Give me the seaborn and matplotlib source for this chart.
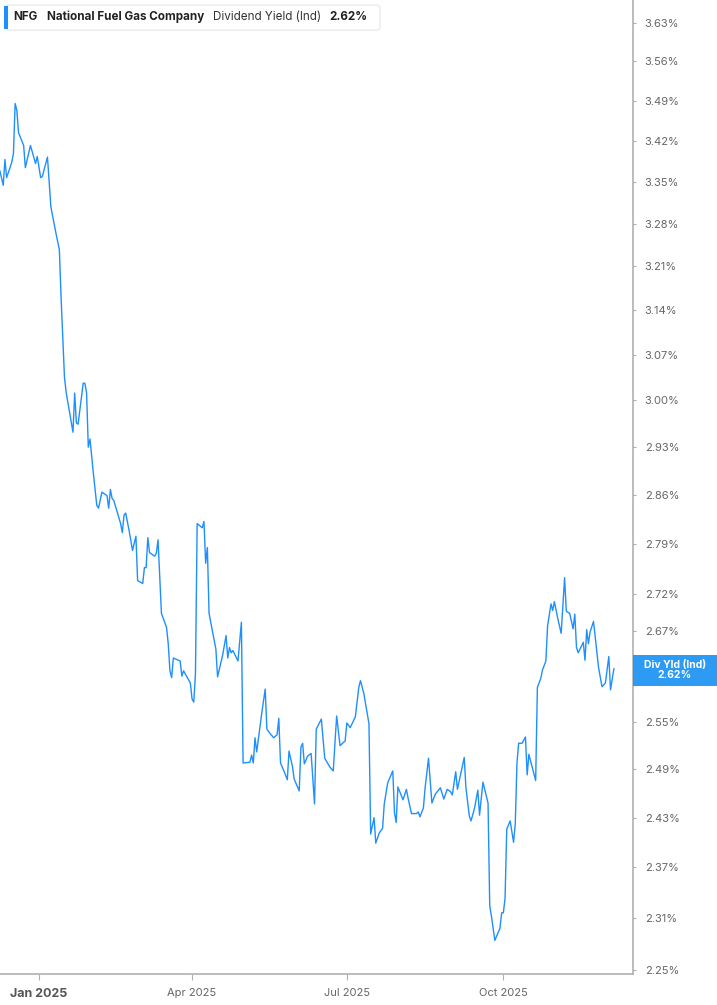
import pandas as pd
import matplotlib.pyplot as plt
import matplotlib.ticker as mticker
from matplotlib.patches import FancyBboxPatch, Rectangle
import seaborn as sns

# values: days counted from 2025-01-01, dividend yield in %
days_from_jan1 = [
    -23, -21, -20, -19, -16, -15, -14, -13, -12, -9, -8, -5, -2, -1,
    1, 2, 5, 7, 8, 10, 12, 13, 15, 16, 20, 21, 22, 23, 26, 27, 28, 29, 30,
    32, 34, 35, 37, 40, 41, 42, 43, 44, 48, 49, 50, 51, 53, 55, 57, 58,
    61, 62, 63, 64, 65, 68, 69, 70, 72, 75, 76, 77, 78, 79, 83, 84, 85,
    89, 90, 91, 92, 93, 95, 96, 97, 98, 99, 100, 104, 105, 108, 110, 111,
    112, 113, 114, 117, 119, 120, 124, 125, 126, 127, 128, 131, 133, 134,
    136, 138, 140, 141, 142, 144, 146, 147, 149, 150, 153, 154, 155, 156,
    158, 160, 162, 163, 166, 168, 171, 173, 175, 177, 180, 181, 183, 186,
    188, 189, 191, 194, 195, 197, 198, 200, 202, 203, 205, 208, 209, 210,
    211, 214, 216, 217, 219, 222, 223, 224, 226, 227, 229, 230, 231, 233,
    236, 238, 240, 242, 243, 245, 246, 248, 250, 251, 253, 254, 256, 258,
    259, 261, 264, 265, 266, 268, 271, 272, 273, 274, 275, 277, 279, 280,
    281, 282, 284, 286, 287, 288, 292, 293, 295, 296, 298, 299, 301, 302,
    303, 305, 307, 309, 310, 312, 314, 315, 316, 317, 320, 321, 322, 323,
    324, 326, 329, 331, 333, 335, 336, 338,
]
div_yield = [
    3.369, 3.344, 3.388, 3.357, 3.383, 3.398, 3.485, 3.473, 3.434, 3.412,
    3.374, 3.412, 3.381, 3.393,
    3.357, 3.359, 3.392, 3.308, 3.293, 3.264, 3.237, 3.160, 3.035, 3.012,
    2.952, 3.011, 2.966, 2.964, 3.026, 3.026, 3.011, 2.930, 2.942,
    2.891, 2.845, 2.841, 2.864, 2.859, 2.841, 2.868, 2.855, 2.852, 2.819,
    2.806, 2.831, 2.834, 2.809, 2.781, 2.801, 2.739,
    2.735, 2.757, 2.757, 2.799, 2.778, 2.773, 2.777, 2.796, 2.694, 2.675,
    2.653, 2.617, 2.608, 2.634, 2.630, 2.610, 2.617,
    2.601, 2.580, 2.576, 2.613, 2.819, 2.815, 2.813, 2.822, 2.763, 2.785,
    2.694, 2.646, 2.609, 2.638, 2.664, 2.634,
    2.648, 2.641, 2.644, 2.630, 2.682, 2.498, 2.499, 2.508, 2.498, 2.530,
    2.512, 2.562, 2.593, 2.541,
    2.535, 2.530, 2.534, 2.555, 2.498, 2.488, 2.477, 2.513, 2.494, 2.478,
    2.463, 2.518, 2.523, 2.497,
    2.507, 2.510, 2.447, 2.541, 2.554, 2.504, 2.493, 2.488, 2.558, 2.520,
    2.526, 2.549, 2.543, 2.557,
    2.595, 2.604, 2.587, 2.548, 2.410, 2.430, 2.399, 2.411, 2.417, 2.447,
    2.473, 2.488, 2.436, 2.424,
    2.468, 2.452, 2.465, 2.454, 2.435, 2.435, 2.437, 2.431, 2.442, 2.467,
    2.504, 2.475, 2.448, 2.459,
    2.467, 2.453, 2.465, 2.462, 2.458, 2.487, 2.465, 2.485, 2.505, 2.467,
    2.432, 2.426, 2.441, 2.464,
    2.433, 2.474, 2.448, 2.324, 2.312, 2.284, 2.298, 2.316, 2.316, 2.333,
    2.416, 2.426, 2.400, 2.422,
    2.498, 2.523, 2.523, 2.531, 2.483, 2.509, 2.476, 2.595, 2.607, 2.618,
    2.630, 2.677, 2.707, 2.698,
    2.710, 2.687, 2.667, 2.743, 2.697, 2.694, 2.673, 2.693, 2.648, 2.641,
    2.655, 2.631, 2.672, 2.653,
    2.669, 2.683, 2.621, 2.596, 2.601, 2.636, 2.592, 2.620,
]

y_ticks = [3.63, 3.56, 3.49, 3.42, 3.35, 3.28, 3.21, 3.14, 3.07, 3.00, 2.93,
           2.86, 2.79, 2.72, 2.67, 2.62, 2.55, 2.49, 2.43, 2.37, 2.31, 2.25]
x_tick_dates = ["2025-01-01", "2025-04-01", "2025-07-01", "2025-10-01"]
x_tick_labels = ["Jan 2025", "Apr 2025", "Jul 2025", "Oct 2025"]
last_value = "2.62%"

LINE_COLOR = "#1e8fff"
GRID_GRAY = "#b0b0b0"
TEXT_GRAY = "#666666"

sns.set_style("white")
plt.rcParams["font.family"] = ["Inter", "DejaVu Sans"]

start = pd.Timestamp("2025-01-01")
df = pd.DataFrame({
    "date": start + pd.to_timedelta(days_from_jan1, unit="D"),
    "yield": div_yield,
})

fig = plt.figure(figsize=(7.17, 10.05), dpi=100)
ax = fig.add_axes([0.0, 0.0308, 0.8828, 0.9692])

sns.lineplot(data=df, x="date", y="yield", ax=ax, color=LINE_COLOR, linewidth=1.0)

ax.set_yscale("log")
ax.set_ylim(2.2455, 3.672)
ax.set_xlim(start - pd.Timedelta(days=22.9), start + pd.Timedelta(days=349.2))


def pct_label(v, pos):
    # the 2.62% tick sits under the last-value flag, so leave its label out
    if abs(v - 2.62) < 1e-6:
        return ""
    return f"{v:.2f}%"


ax.yaxis.tick_right()
ax.yaxis.set_major_locator(mticker.FixedLocator(y_ticks))
ax.yaxis.set_major_formatter(mticker.FuncFormatter(pct_label))
ax.yaxis.set_minor_locator(mticker.NullLocator())
ax.tick_params(axis="y", which="major", right=True, length=2.5, width=0.8,
               color=GRID_GRAY, labelsize=8, labelcolor=TEXT_GRAY, pad=6)

ax.set_xticks(pd.to_datetime(x_tick_dates))
ax.set_xticklabels(x_tick_labels)
ax.tick_params(axis="x", bottom=True, length=4, width=0.8, color=GRID_GRAY,
               labelsize=8, labelcolor=TEXT_GRAY, pad=6)
first = ax.get_xticklabels()[0]
first.set_fontweight("bold")
first.set_color("#555555")
first.set_fontsize(9)

ax.set_xlabel("")
ax.set_ylabel("")
for side in ["left", "top"]:
    ax.spines[side].set_visible(False)
for side in ["right", "bottom"]:
    ax.spines[side].set_color(GRID_GRAY)
    ax.spines[side].set_linewidth(1.2)

# header box at top left
fig.patches.append(FancyBboxPatch((0.008, 0.970), 0.522, 0.025,
                                  boxstyle="round,pad=0,rounding_size=0.004",
                                  transform=fig.transFigure, facecolor="white",
                                  edgecolor="#e6e6e6", linewidth=0.8, zorder=5))
fig.patches.append(Rectangle((0.006, 0.971), 0.0045, 0.023, transform=fig.transFigure,
                             facecolor=LINE_COLOR, edgecolor="none", zorder=6))
head_y = 0.9832
head_size = 8.4
fig.text(0.018, head_y, "NFG", fontsize=head_size, fontweight="bold", color="#222222",
         va="center", zorder=7)
fig.text(0.066, head_y, "National Fuel Gas Company", fontsize=head_size,
         fontweight="bold", color="#222222", va="center", zorder=7)
fig.text(0.297, head_y, "Dividend Yield (Ind)", fontsize=head_size, color="#333333",
         va="center", zorder=7)
fig.text(0.460, head_y, last_value, fontsize=head_size, fontweight="bold",
         color="#222222", va="center", zorder=7)

# last value flag on the right axis
fig.patches.append(Rectangle((633 / 717, 1 - 686 / 1005), 84 / 717, 31 / 1005,
                             transform=fig.transFigure, facecolor="#2196f3",
                             edgecolor="none", alpha=0.95, zorder=8))
fig.text(675 / 717, 1 - 670 / 1005, "Div Yld (Ind)\n" + last_value, fontsize=7.5,
         fontweight="bold", color="white", ha="center", va="center",
         linespacing=1.0, zorder=9)

fig.savefig("out.png", dpi=100)
